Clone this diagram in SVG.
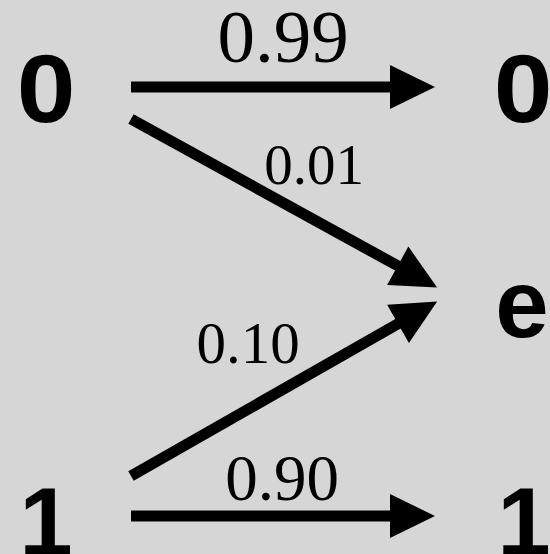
<svg xmlns="http://www.w3.org/2000/svg" width="550" height="554" viewBox="0 0 550 554">
<style>
.sym{font-family:"Liberation Sans",Arial,Helvetica,sans-serif;font-weight:bold;font-size:96px;fill:#000;text-anchor:middle}
.p{font-family:"Liberation Serif","Times New Roman",serif;fill:#000;text-anchor:middle}
.arr{stroke:#000;stroke-width:11;stroke-linecap:butt;fill:none;marker-end:url(#head)}
</style>
<defs>
<marker id="head" markerUnits="userSpaceOnUse" markerWidth="50" markerHeight="50" refX="1" refY="0" viewBox="0 -25 50 50" orient="auto" overflow="visible">
<path d="M0,-22 L45,0 L0,22 Z" fill="#000"/>
</marker>
</defs>
<rect width="550" height="554" fill="#d6d6d6"/>
<g id="in0"><text class="sym" transform="translate(46,122) scale(1.1,1)">0</text></g>
<g id="in1"><text class="sym" x="46" y="555">1</text></g>
<g id="out0"><text class="sym" transform="translate(523,122) scale(1.1,1)">0</text></g>
<g id="oute"><text class="sym" x="522" y="337">e</text></g>
<g id="out1"><text class="sym" x="524" y="555">1</text></g>
<g id="connectors">
<line class="arr" x1="131" y1="87" x2="391" y2="87"/>
<line class="arr" x1="131" y1="119" x2="398.6" y2="266.3"/>
<line class="arr" x1="131" y1="476" x2="398.9" y2="323.3"/>
<line class="arr" x1="131" y1="516" x2="391" y2="516"/>
<text class="p" x="283" y="62" font-size="75">0.99</text>
<text class="p" x="314" y="184" font-size="57">0.01</text>
<text class="p" x="248" y="363" font-size="59">0.10</text>
<text class="p" x="282" y="500" font-size="65">0.90</text>
</g>
</svg>
